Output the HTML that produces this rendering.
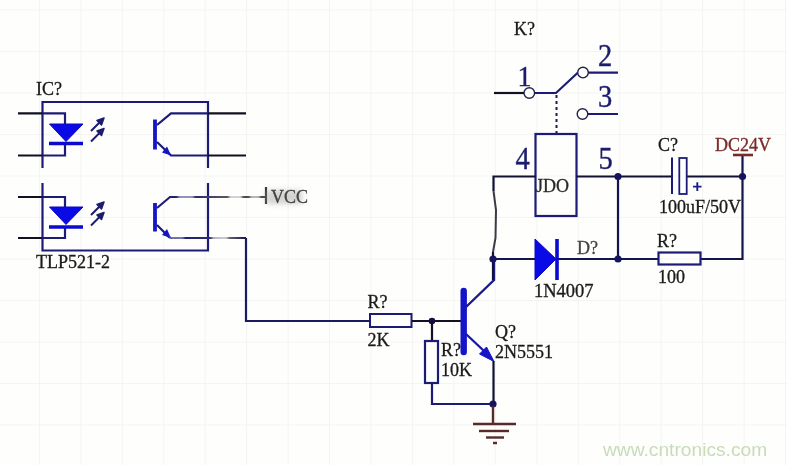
<!DOCTYPE html>
<html><head><meta charset="utf-8">
<style>
html,body{margin:0;padding:0;background:#fefefc;}
body{width:787px;height:465px;overflow:hidden;}
svg{display:block;filter:blur(0.4px);}
text{font-family:"Liberation Serif",serif;}
</style></head><body>
<svg width="787" height="465" viewBox="0 0 787 465">
<rect x="0" y="0" width="787" height="465" fill="#fefefc"/>
<!-- faint grid -->
<g stroke="#f4f4f2" stroke-width="1">
<line x1="39.4" y1="0" x2="39.4" y2="465"/><line x1="80.8" y1="0" x2="80.8" y2="465"/><line x1="122.3" y1="0" x2="122.3" y2="465"/><line x1="163.8" y1="0" x2="163.8" y2="465"/><line x1="205.2" y1="0" x2="205.2" y2="465"/><line x1="246.6" y1="0" x2="246.6" y2="465"/><line x1="288.1" y1="0" x2="288.1" y2="465"/><line x1="329.5" y1="0" x2="329.5" y2="465"/><line x1="371.0" y1="0" x2="371.0" y2="465"/><line x1="412.4" y1="0" x2="412.4" y2="465"/><line x1="453.9" y1="0" x2="453.9" y2="465"/><line x1="495.3" y1="0" x2="495.3" y2="465"/><line x1="536.8" y1="0" x2="536.8" y2="465"/><line x1="578.2" y1="0" x2="578.2" y2="465"/><line x1="619.7" y1="0" x2="619.7" y2="465"/><line x1="661.2" y1="0" x2="661.2" y2="465"/><line x1="702.6" y1="0" x2="702.6" y2="465"/><line x1="744.1" y1="0" x2="744.1" y2="465"/><line x1="785.5" y1="0" x2="785.5" y2="465"/><line x1="0" y1="10.0" x2="787" y2="10.0"/><line x1="0" y1="51.5" x2="787" y2="51.5"/><line x1="0" y1="93.0" x2="787" y2="93.0"/><line x1="0" y1="134.5" x2="787" y2="134.5"/><line x1="0" y1="176.0" x2="787" y2="176.0"/><line x1="0" y1="217.5" x2="787" y2="217.5"/><line x1="0" y1="259.0" x2="787" y2="259.0"/><line x1="0" y1="300.5" x2="787" y2="300.5"/><line x1="0" y1="342.0" x2="787" y2="342.0"/><line x1="0" y1="383.5" x2="787" y2="383.5"/><line x1="0" y1="425.0" x2="787" y2="425.0"/>
</g>

<!-- ===== Optocoupler ===== -->
<defs>
<linearGradient id="fade" gradientUnits="userSpaceOnUse" x1="157" y1="0" x2="266" y2="0"><stop offset="0" stop-color="#1c1c78"/><stop offset="0.35" stop-color="#2a2a66"/><stop offset="0.6" stop-color="#555566"/><stop offset="1" stop-color="#444"/></linearGradient>
<linearGradient id="fade2" gradientUnits="userSpaceOnUse" x1="171" y1="0" x2="246" y2="0"><stop offset="0" stop-color="#1c1c78"/><stop offset="0.5" stop-color="#2a2a70"/><stop offset="0.7" stop-color="#777788"/><stop offset="1" stop-color="#1a1a40"/></linearGradient>
</defs>
<path d="M42.5,167 V102 H208 V167 M42.5,184 V250.5 H208 V184" stroke="#1c1c78" stroke-width="2.2" fill="none" stroke-linecap="square"/>
<g id="ch1">
  <path d="M18,113.3 H42.5 M18,155.5 H42.5" stroke="#111122" stroke-width="2.2" fill="none"/>
  <path d="M42.5,113.3 H65 V124 M65,143 V155.5 H42.5" stroke="#1c1c78" stroke-width="2.2" fill="none"/>
  <path d="M49.5,124 H83 L66,141.5 Z" fill="#0a0ae6" stroke="#0a0ac0" stroke-width="1"/>
  <path d="M49,143.5 H83" stroke="#0a0ad0" stroke-width="3.6"/>
  <path d="M91,131 L100,122 M91,141.5 L100,132.5" stroke="#1c1c70" stroke-width="2"/>
  <path d="M104,118 L97,120.5 L101.5,125 Z M104,128.5 L97,131 L101.5,135.5 Z" fill="#1c1c70" stroke="#1c1c70" stroke-width="1.5" stroke-linejoin="round"/>
  <path d="M155,119.5 V149.5" stroke="#1414c8" stroke-width="3.8"/>
  <path d="M157,125 L171,113.3 H208" stroke="#1c1c78" stroke-width="2.2" fill="none"/>
  <path d="M208,113.3 H246 M208,155.5 H246" stroke="#111122" stroke-width="2.2" fill="none"/>
  <path d="M157,142 L169,153.5 L171,155.5 H208" stroke="#1c1c78" stroke-width="2.2" fill="none"/>
  <path d="M171,155.5 l-9,-3 l5,-6 Z" fill="#1414c8"/>
</g>
<g id="ch2">
  <path d="M18,197 H42.5 M18,238 H42.5" stroke="#111122" stroke-width="2.2" fill="none"/>
  <path d="M42.5,197 H65 V207 M65,227 V238 H42.5" stroke="#1c1c78" stroke-width="2.2" fill="none"/>
  <path d="M49.5,207 H83 L66,224.5 Z" fill="#0a0ae6" stroke="#0a0ac0" stroke-width="1"/>
  <path d="M49,227 H83" stroke="#0a0ad0" stroke-width="3.6"/>
  <path d="M91,215 L100,206 M91,225.5 L100,216.5" stroke="#1c1c70" stroke-width="2"/>
  <path d="M104,202 L97,204.5 L101.5,209 Z M104,212.5 L97,215 L101.5,219.5 Z" fill="#1c1c70" stroke="#1c1c70" stroke-width="1.5" stroke-linejoin="round"/>
  <path d="M155,203 V231.5" stroke="#1414c8" stroke-width="3.8"/>
  <path d="M157,208 L170,197 H266" stroke="url(#fade)" stroke-width="2.2" fill="none"/>
  <path d="M157,225 L169,237 L171,238 H246" stroke="url(#fade2)" stroke-width="2.2" fill="none"/>
  <path d="M246,238 V321 H370" stroke="#1a1a60" stroke-width="2.2" fill="none"/>
  <path d="M171,238 l-9,-3 l5,-6 Z" fill="#1414c8"/>
</g>
<path d="M266,187 V204" stroke="#333" stroke-width="2.2"/>
<defs><filter id="bl" x="-50%" y="-50%" width="200%" height="200%"><feGaussianBlur stdDeviation="2.5"/></filter>
</defs>
<rect x="266" y="190" width="36" height="14" fill="#aaa" opacity="0.5" filter="url(#bl)"/>
<defs><filter id="bl2" x="-50%" y="-50%" width="200%" height="200%"><feGaussianBlur stdDeviation="1.2"/></filter></defs>
<g fill="#fff" filter="url(#bl2)">
<rect x="229" y="194" width="13" height="6" opacity="0.75"/>
<rect x="250" y="194" width="10" height="6" opacity="0.6"/>
<rect x="178" y="194" width="16" height="6" opacity="0.5"/>
<rect x="212" y="235" width="16" height="6" opacity="0.6"/>
<rect x="170" y="233" width="14" height="7" opacity="0.4"/>
</g>
<text x="271" y="202.5" font-size="18" fill="#444" stroke="#444" stroke-width="0.3">VCC</text>
<text x="36" y="95" font-size="18" fill="#1a1a1a" stroke="#1a1a1a" stroke-width="0.3">IC?</text>
<text x="36" y="268" font-size="18" fill="#1a1a1a" stroke="#1a1a1a" stroke-width="0.3">TLP521-2</text>

<!-- ===== 2K resistor & Q ===== -->
<rect x="370" y="314" width="41.5" height="13" fill="none" stroke="#1c1c78" stroke-width="2"/>
<path d="M412,321 H461" stroke="#111122" stroke-width="2.2"/>
<circle cx="432" cy="321" r="3.3" fill="#111144"/>
<text x="367.5" y="307.7" font-size="18" fill="#1a1a1a" stroke="#1a1a1a" stroke-width="0.3">R?</text>
<text x="367.5" y="345.5" font-size="18" fill="#1a1a1a" stroke="#1a1a1a" stroke-width="0.3">2K</text>
<path d="M432,321 V341" stroke="#111122" stroke-width="2.2"/>
<rect x="425" y="341" width="13" height="42" fill="none" stroke="#1c1c78" stroke-width="2.2"/>
<path d="M432,383 V404 H493" stroke="#1c1c78" stroke-width="2.2" fill="none"/>
<text x="441" y="356" font-size="18" fill="#1a1a1a" stroke="#1a1a1a" stroke-width="0.3">R?</text>
<text x="441" y="376" font-size="18" fill="#1a1a1a" stroke="#1a1a1a" stroke-width="0.3">10K</text>
<path d="M463.7,291 V352" stroke="#1414c8" stroke-width="6.4" stroke-linecap="round"/>
<path d="M466,307 L494,280 V259" stroke="#1c1c88" stroke-width="2.4" fill="none"/>
<path d="M466,334 L484,351" stroke="#1818a8" stroke-width="2.3"/>
<path d="M494,361.5 L479.5,354 L486.5,347 Z" fill="#1414c8" stroke="#1414c8" stroke-width="1" stroke-linejoin="round"/>
<path d="M493.5,361 V404" stroke="#111133" stroke-width="2.2"/>
<circle cx="493" cy="404" r="3.6" fill="#141460"/>
<text x="495" y="338" font-size="18" fill="#1a1a1a" stroke="#1a1a1a" stroke-width="0.3">Q?</text>
<text x="495" y="358" font-size="18" fill="#1a1a1a" stroke="#1a1a1a" stroke-width="0.3">2N5551</text>
<!-- ground -->
<g stroke="#5a2a2a" stroke-width="2.4">
<path d="M493,406 V424"/>
<path d="M473,424 H516"/>
<path d="M479,431 H509"/>
<path d="M486,437.5 H504"/>
<path d="M493,443 H497"/>
</g>

<!-- ===== Relay & switch ===== -->
<text x="514" y="35" font-size="18" fill="#1a1a1a" stroke="#1a1a1a" stroke-width="0.3">K?</text>
<path d="M494,93 H524 M535,93 H556 L578,72.5 M588,72.6 H618 M588,114 H618" stroke="#1c1c78" stroke-width="2.2" fill="none"/>
<path d="M494,93 H524" stroke="#111122" stroke-width="2.2"/>
<circle cx="529.3" cy="93" r="5.3" fill="#fff" stroke="#222244" stroke-width="1.4"/>
<circle cx="583" cy="72.6" r="5.3" fill="#fff" stroke="#222244" stroke-width="1.4"/>
<circle cx="582.5" cy="114" r="5.3" fill="#fff" stroke="#222244" stroke-width="1.4"/>
<path d="M556.5,95 V134" stroke="#1c1c50" stroke-width="2" stroke-dasharray="3,3"/>
<g font-size="31" fill="#1c1c6e" stroke="#1c1c6e" stroke-width="0.4">
<text transform="translate(517.5,85.5) scale(0.9,0.95)">1</text>
<text transform="translate(598,65.5) scale(0.92,1)">2</text>
<text transform="translate(598,107) scale(0.92,1)">3</text>
<text transform="translate(515.5,169.3) scale(0.92,1)">4</text>
<text transform="translate(598.5,169.3) scale(0.92,1)">5</text>
</g>
<rect x="535.5" y="134" width="41" height="82" fill="none" stroke="#1c1c78" stroke-width="2.2"/>
<text x="536" y="192" font-size="18" fill="#2a2a2a" stroke="#2a2a2a" stroke-width="0.3">JDO</text>
<path d="M493,280 V252 M493.5,191 V176.5 H535.5 M576.5,176.5 H672 M687,176.5 H742.5" stroke="#111133" stroke-width="2.2" fill="none"/><path d="M493.5,191 L496,210 L495.5,238 L493,252" stroke="#3a3a48" stroke-width="2" fill="none"/>
<circle cx="618" cy="176.5" r="3.6" fill="#141460"/>
<circle cx="742.5" cy="176.5" r="3.6" fill="#141460"/>
<!-- diode -->
<path d="M493,259 H535 M557,259 H658.5 M700.5,259 H742.5 V155 M618,176.5 V259" stroke="#141450" stroke-width="2.2" fill="none"/>
<circle cx="493" cy="259" r="3.6" fill="#141460"/>
<circle cx="618" cy="259" r="3.6" fill="#141460"/>
<path d="M535,239 V280 L556,259 Z" fill="#0a0ae6" stroke="#0a0ac0" stroke-width="1"/>
<path d="M557,239 V280" stroke="#0a0ad0" stroke-width="3.6"/>
<text x="577" y="254" font-size="18" fill="#444" stroke="#444" stroke-width="0.3">D?</text>
<text x="534" y="297" font-size="18.5" fill="#1a1a1a" stroke="#1a1a1a" stroke-width="0.3">1N4007</text>
<!-- R 100 -->
<rect x="658.5" y="252.5" width="42" height="12" fill="none" stroke="#1c1c78" stroke-width="2.2"/>
<text x="657" y="247" font-size="18" fill="#1a1a1a" stroke="#1a1a1a" stroke-width="0.3">R?</text>
<text x="658" y="283" font-size="18" fill="#1a1a1a" stroke="#1a1a1a" stroke-width="0.3">100</text>
<!-- capacitor -->
<path d="M672,157.5 V194" stroke="#1c1c78" stroke-width="2"/>
<rect x="679.3" y="158" width="7.4" height="36" fill="#fff" stroke="#1c1c78" stroke-width="1.8"/>
<path d="M693,186.6 H701.5 M697.3,182.3 V191" stroke="#1c1c8a" stroke-width="1.9"/>
<text x="658" y="151" font-size="18" fill="#1a1a1a" stroke="#1a1a1a" stroke-width="0.3">C?</text>
<text x="659" y="213" font-size="18" fill="#1a1a1a" stroke="#1a1a1a" stroke-width="0.3">100uF/50V</text>
<!-- DC24V -->
<path d="M733,155 H753" stroke="#7a2a2a" stroke-width="2.6"/>
<text x="715" y="151" font-size="18" fill="#7a2a2a" stroke="#7a2a2a" stroke-width="0.3">DC24V</text>

<text x="603" y="456" font-size="19.2" fill="#c8dcba" style="font-family:'Liberation Sans',sans-serif">www.cntronics.com</text>
</svg>
</body></html>
